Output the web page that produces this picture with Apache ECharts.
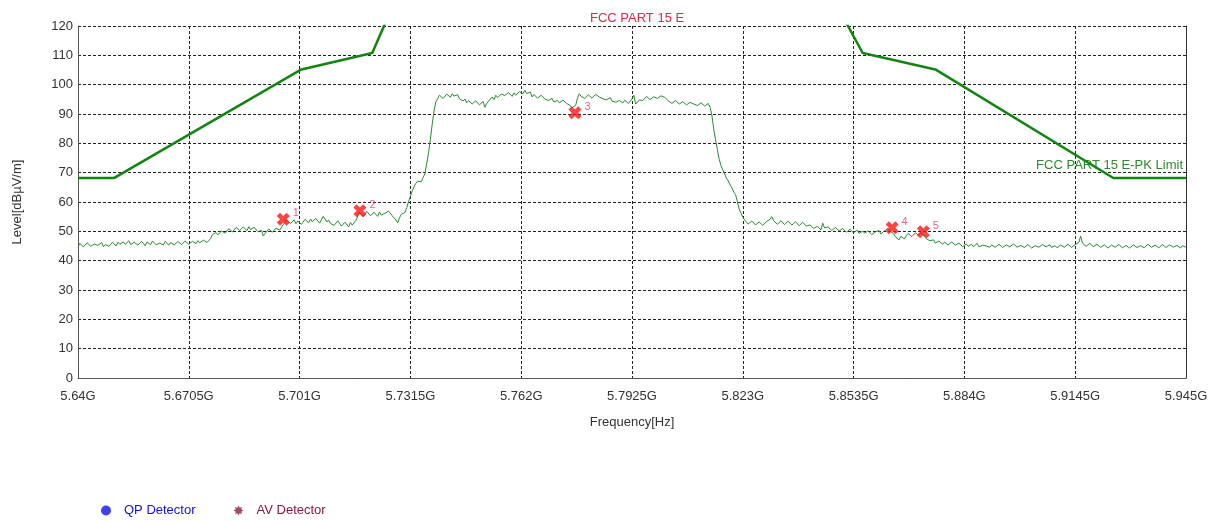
<!DOCTYPE html>
<html>
<head>
<meta charset="utf-8">
<script src="https://cdn.jsdelivr.net/npm/echarts@6/dist/echarts.min.js"></script>
<style>
html,body{margin:0;padding:0;background:#fff;}
#chart{width:1214px;height:521px;}
</style>
</head>
<body>
<div id="chart"></div>
<script>
// ---------- data ----------
var chartTitle = 'FCC PART 15 E';
var limitName = 'FCC PART 15 E-PK Limit';
var xAxisName = 'Frequency[Hz]';
var yAxisName = 'Level[dB\u00B5V/m]';
var axisStartMHz = 5640;
var axisEndMHz = 5945;
var axisStepMHz = 30.5;
var yTicks = [0, 10, 20, 30, 40, 50, 60, 70, 80, 90, 100, 110, 120];

// limit line (MHz, dBuV/m)
var limitFreqMHz = [5640, 5650, 5701.5, 5721, 5725, 5851, 5856, 5876, 5925, 5945];
var limitLevel   = [68.2, 68.2, 105.2, 110.8, 122.2, 122.2, 110.8, 105.2, 68.2, 68.2];

// measured trace, one point per 0.5 MHz from 5640 MHz
var traceStartMHz = 5640;
var traceStepMHz = 0.5;
var traceLevel = [
  44.6, 45.9, 45.4, 44.7, 44.9, 46.1, 45.8, 44.9, 45.1, 45.7,
  46.0, 45.2, 45.3, 46.2, 44.8, 45.5, 45.9, 44.9, 45.2, 46.3,
  45.7, 45.0, 46.3, 45.6, 45.0, 46.4, 45.6, 45.1, 46.8, 45.5,
  45.4, 46.3, 46.1, 45.3, 45.2, 46.6, 45.9, 45.1, 46.4, 45.8,
  45.5, 46.7, 46.2, 45.4, 45.1, 46.0, 45.8, 45.3, 46.6, 46.9,
  45.3, 46.2, 46.0, 45.4, 45.7, 46.5, 46.9, 45.5, 45.6, 46.7,
  46.5, 45.6, 45.4, 46.6, 46.2, 45.8, 46.8, 46.1, 45.9, 47.0,
  47.1, 46.2, 46.4, 47.5, 48.9, 48.3, 49.6, 48.8, 49.2, 50.1,
  50.3, 49.4, 49.7, 50.9, 50.8, 49.8, 50.1, 51.3, 51.2, 50.3,
  50.4, 51.5, 50.9, 50.2, 51.6, 50.6, 50.2, 51.4, 50.8, 49.9,
  49.6, 50.3, 48.4, 49.3, 49.9, 50.8, 50.6, 49.7, 50.2, 51.1,
  51.3, 50.4, 51.0, 52.3, 52.8, 54.0, 53.6, 52.7, 53.1, 53.9,
  52.6, 53.5, 53.4, 52.4, 52.9, 54.1, 53.8, 52.9, 54.2, 53.3,
  53.5, 54.4, 54.0, 52.8, 53.3, 55.1, 54.8, 53.2, 53.9, 52.7,
  53.1, 52.0, 52.4, 53.6, 53.2, 51.8, 51.9, 53.1, 52.6, 51.5,
  53.0, 52.1, 52.2, 53.7, 55.2, 56.4, 56.1, 55.0, 55.6, 56.8,
  56.3, 55.3, 55.4, 56.5, 55.9, 55.1, 56.6, 55.5, 55.2, 56.2,
  55.8, 56.9, 56.4, 55.3, 54.9, 53.9, 52.9, 54.6, 55.8, 55.2,
  56.4, 58.1, 60.2, 61.9, 63.8, 65.2, 66.4, 67.1, 67.6, 66.9,
  68.4, 69.6, 73.2, 76.8, 81.4, 86.5, 91.0, 94.1, 95.2, 96.4,
  96.1, 95.3, 95.6, 96.8, 96.4, 95.7, 96.9, 96.1, 95.8, 96.6,
  95.2, 94.7, 94.4, 95.1, 93.8, 94.6, 94.2, 93.4, 93.5, 94.5,
  94.0, 93.1, 93.2, 94.3, 92.3, 93.6, 93.9, 95.1, 95.8, 94.9,
  96.4, 95.6, 95.7, 96.8, 97.4, 96.3, 96.2, 97.3, 96.8, 96.0,
  97.2, 96.4, 96.5, 97.6, 97.8, 96.9, 98.1, 97.0, 96.9, 97.5,
  95.8, 96.7, 96.3, 95.4, 95.5, 96.4, 96.0, 95.1, 95.2, 94.6,
  94.8, 95.3, 94.1, 94.7, 94.6, 93.8, 93.9, 94.7, 94.4, 93.6,
  93.6, 92.9, 92.1, 91.8, 93.0, 95.4, 96.9, 96.0, 96.2, 95.3,
  95.6, 96.5, 96.3, 95.4, 95.8, 96.7, 96.9, 95.8, 96.1, 95.2,
  95.5, 94.8, 95.0, 95.6, 94.4, 94.9, 94.0, 93.6, 94.6, 95.0,
  93.8, 94.7, 94.3, 93.6, 94.0, 95.1, 96.4, 93.4, 93.2, 94.8,
  95.4, 94.6, 95.1, 96.0, 95.8, 94.9, 95.0, 95.9, 96.0, 95.3,
  95.3, 96.2, 96.8, 95.7, 95.6, 94.5, 94.1, 93.6, 93.8, 94.6,
  94.5, 93.4, 93.5, 94.2, 93.9, 93.1, 93.3, 94.0, 94.2, 93.4,
  93.6, 92.9, 93.1, 93.8, 93.4, 92.7, 93.0, 93.6, 92.3, 89.6,
  84.8, 81.3, 77.9, 74.6, 72.4, 70.9, 69.6, 68.1, 67.2, 65.8,
  64.8, 63.4, 62.6, 60.1, 57.6, 56.2, 54.8, 53.9, 53.4, 52.5,
  52.6, 53.5, 53.1, 52.2, 52.3, 53.2, 52.9, 52.0, 52.4, 53.3,
  52.8, 54.1, 55.0, 53.6, 53.2, 52.4, 52.5, 53.6, 53.4, 52.3,
  52.7, 53.5, 53.0, 52.1, 52.2, 53.3, 52.8, 51.9, 52.4, 53.1,
  52.9, 51.8, 51.3, 52.2, 51.9, 51.0, 50.8, 51.7, 51.4, 50.5,
  52.8, 51.2, 50.6, 51.5, 51.2, 50.3, 50.4, 51.3, 50.9, 50.1,
  50.3, 51.0, 50.8, 49.7, 49.9, 50.7, 50.5, 49.5, 49.6, 50.4,
  49.3, 49.9, 50.1, 49.4, 49.2, 50.2, 49.8, 48.9, 49.0, 49.8,
  49.6, 50.3, 49.1, 49.7, 50.2, 50.8, 51.0, 50.1, 50.4, 49.2,
  48.2, 47.6, 47.1, 48.3, 48.0, 47.4, 48.6, 49.3, 49.1, 48.2,
  48.4, 49.5, 49.2, 48.6, 49.6, 48.9, 48.3, 47.5, 47.2, 46.8,
  46.4, 47.1, 46.0, 45.7, 46.7, 46.1, 45.6, 46.3, 46.2, 45.4,
  45.7, 46.4, 46.1, 45.3, 45.2, 46.0, 45.9, 44.8, 45.4, 45.7,
  44.9, 45.1, 45.6, 44.7, 45.1, 45.9, 44.7, 44.6, 45.3, 45.5,
  45.0, 44.4, 44.6, 45.3, 45.4, 44.6, 44.9, 45.6, 45.2, 44.5,
  44.5, 45.4, 45.1, 44.7, 44.8, 45.7, 45.5, 44.6, 44.7, 45.2,
  45.2, 44.5, 44.6, 45.5, 45.0, 44.3, 44.4, 45.1, 45.3, 44.6,
  44.8, 45.5, 45.6, 44.7, 44.9, 45.4, 44.5, 44.8, 45.1, 44.4,
  44.7, 45.3, 45.4, 44.6, 44.9, 45.6, 45.3, 44.5, 44.6, 45.5,
  45.8, 46.2, 48.4, 46.0, 45.6, 44.9, 45.1, 45.9, 45.8, 44.8,
  44.9, 45.6, 45.5, 44.5, 44.6, 45.4, 45.2, 44.3, 44.4, 45.3,
  45.0, 44.6, 44.7, 45.5, 45.3, 44.4, 44.5, 45.2, 45.1, 44.3,
  44.6, 45.4, 45.2, 44.5, 44.3, 45.1, 45.0, 44.4, 44.8, 45.6,
  45.4, 44.6, 44.5, 45.3, 45.1, 44.4, 44.6, 45.5, 45.3, 44.5,
  44.7, 45.4, 45.2, 44.6, 44.5, 45.2, 44.9, 44.3, 45.1, 45.4,
  44.6
];

// marked peaks
var markerIds = ['1', '2', '3', '4', '5'];
var markerFreqMHz = [5696.5, 5717.6, 5776.8, 5864.1, 5872.7];
var markerLevel = [54.1, 57.0, 90.4, 51.2, 49.9];

// legend
var legendNames = ['QP Detector', 'AV Detector'];
var legendColors = ['#1010f0', '#8a1a3c'];

// ---------- build ----------
function toAxis(f) { return f - axisStartMHz; }

var traceData = traceLevel.map(function (v, i) {
  return [toAxis(traceStartMHz + i * traceStepMHz), v];
});
var limitData = limitFreqMHz.map(function (f, i) { return [toAxis(f), limitLevel[i]]; });
var markerData = markerFreqMHz.map(function (f, i) {
  return { value: [toAxis(f), markerLevel[i]], name: markerIds[i] };
});

var starPath = 'path://M20,10 L15.5,12.3 L17.07,17.07 L12.3,15.5 L10,20 L7.7,15.5 L2.93,17.07 L4.5,12.3 L0,10 L4.5,7.7 L2.93,2.93 L7.7,4.5 L10,0 L12.3,4.5 L17.07,2.93 L15.5,7.7 Z';
var crossPath = 'path://M0,5 L5,0 L10,5 L15,0 L20,5 L15,10 L20,15 L15,20 L10,15 L5,20 L0,15 L5,10 Z';

var fontFam = '"Liberation Sans", Arial, sans-serif';

var chart = echarts.init(document.getElementById('chart'), null, { renderer: 'canvas' });
chart.setOption({
  animation: false,
  backgroundColor: '#ffffff',
  textStyle: { fontFamily: fontFam },
  title: {
    text: chartTitle,
    left: 585,
    top: 7,
    textStyle: { color: '#e8254a', fontSize: 13, fontWeight: 'normal', fontFamily: fontFam }
  },
  grid: { left: 78, right: 28, top: 26, bottom: 143, containLabel: false },
  legend: {
    left: 96,
    top: 499,
    itemWidth: 26,
    itemHeight: 10,
    itemGap: 38,
    selectedMode: false,
    textStyle: { fontSize: 13, fontFamily: fontFam },
    data: [
      { name: legendNames[0], icon: 'circle', textStyle: { color: legendColors[0] } },
      { name: legendNames[1], icon: starPath, textStyle: { color: legendColors[1] } }
    ]
  },
  graphic: [{
    type: 'text',
    right: 31,
    top: 159,
    style: { text: limitName, fill: '#2f8a2f', font: '13px ' + fontFam }
  }],
  xAxis: {
    type: 'value',
    min: 0,
    max: toAxis(axisEndMHz),
    interval: axisStepMHz,
    name: xAxisName,
    nameLocation: 'middle',
    nameGap: 38,
    nameTextStyle: { color: '#333', fontSize: 13, fontFamily: fontFam },
    axisLine: { show: true, lineStyle: { color: '#555', width: 1 } },
    axisTick: { show: false },
    axisLabel: {
      color: '#333', fontSize: 13, margin: 12, fontFamily: fontFam,
      formatter: function (v) {
        return ((axisStartMHz + v) / 1000).toFixed(4).replace(/0+$/, '') + 'G';
      }
    },
    splitLine: { show: true, lineStyle: { color: '#222', type: [3, 2], width: 1 } }
  },
  yAxis: [{
    type: 'value',
    min: yTicks[0],
    max: yTicks[yTicks.length - 1],
    interval: yTicks[1] - yTicks[0],
    name: yAxisName,
    nameLocation: 'middle',
    nameGap: 54,
    nameTextStyle: { color: '#333', fontSize: 13, fontFamily: fontFam },
    axisLine: { show: true, lineStyle: { color: '#555', width: 1 } },
    axisTick: { show: false },
    axisLabel: { color: '#333', fontSize: 13, margin: 5, fontFamily: fontFam },
    splitLine: { show: true, lineStyle: { color: '#222', type: [3, 2], width: 1 } }
  }, {
    type: 'value',
    position: 'right',
    min: yTicks[0],
    max: yTicks[yTicks.length - 1],
    interval: yTicks[1] - yTicks[0],
    axisLine: { show: true, lineStyle: { color: '#333', width: 1 } },
    axisTick: { show: false },
    axisLabel: { show: false },
    splitLine: { show: false }
  }],
  series: [
    {
      name: 'Trace',
      type: 'line',
      data: traceData,
      symbol: 'none',
      lineStyle: { color: '#2a8a36', width: 1 },
      z: 3
    },
    {
      name: limitName,
      type: 'line',
      data: limitData,
      symbol: 'none',
      clip: true,
      lineStyle: { color: '#128412', width: 2.5 },
      z: 4
    },
    {
      name: 'Markers',
      type: 'scatter',
      data: markerData,
      symbol: crossPath,
      symbolSize: 13,
      itemStyle: { color: '#ff1414' },
      label: {
        show: true,
        formatter: '{b}',
        position: 'right',
        offset: [-2, -6],
        color: '#e0406a',
        fontSize: 11,
        fontFamily: fontFam
      },
      z: 6
    },
    {
      name: legendNames[0],
      type: 'scatter',
      data: [],
      itemStyle: { color: legendColors[0] }
    },
    {
      name: legendNames[1],
      type: 'scatter',
      data: [],
      itemStyle: { color: legendColors[1] }
    }
  ]
});
</script>
</body>
</html>
